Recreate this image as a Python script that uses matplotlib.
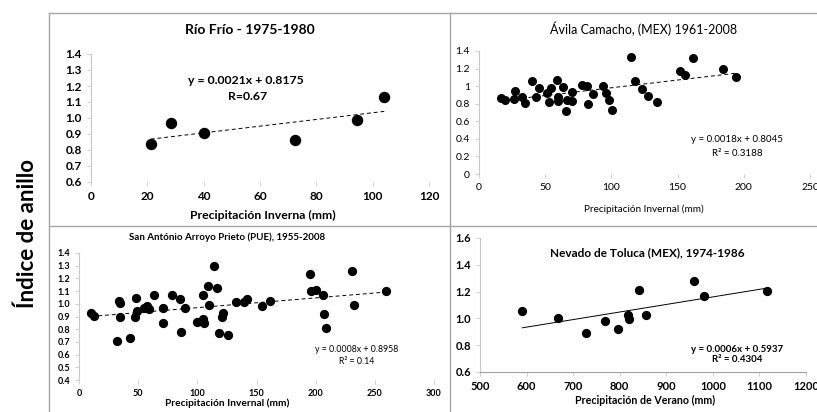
import numpy as np
import matplotlib
matplotlib.use("Agg")
import matplotlib.pyplot as plt
from matplotlib.lines import Line2D

plt.rcParams['font.family'] = ['Lato', 'DejaVu Sans']

W, H = 817, 412

# --- data ---
# Rio Frio 1975-1980
x_rio = [21.2, 28.5, 40.2, 72.4, 94.5, 104.1]
y_rio = [0.836, 0.97, 0.907, 0.861, 0.99, 1.132]

# Avila Camacho (MEX) 1961-2008
x_avila = [16.9, 19.4, 26.5, 27, 32.8, 34.6, 40.4, 42.7, 45.2, 51.7, 53, 54.3, 58.6,
           59.3, 59.8, 63.6, 65.4, 66.2, 70.5, 70.5, 77.5, 81.3, 82.6, 85.8, 93.9,
           95.7, 98.2, 100.2, 114.9, 118.2, 123.2, 127.8, 134.6, 151.8, 155.5, 161.6,
           184.6, 194]
y_avila = [0.868, 0.842, 0.85, 0.948, 0.88, 0.81, 1.058, 0.88, 0.975, 0.925, 0.823,
           0.975, 1.07, 0.88, 0.834, 0.993, 0.72, 0.842, 0.936, 0.834, 1.012, 1.0,
           0.80, 0.906, 1.0, 0.918, 0.842, 0.728, 1.327, 1.06, 0.967, 0.887, 0.823,
           1.175, 1.126, 1.316, 1.20, 1.10]

# San Antonio Arroyo Prieto (PUE) 1955-2008
x_sanant = [10.5, 12.5, 32.4, 33.5, 35, 34.7, 43.2, 48, 47.5, 49, 55, 57.5, 59, 63.7,
            71, 71, 78.8, 85.3, 85.9, 89.6, 99.5, 104.4, 105, 105.8, 108.6, 109.5,
            113.8, 116.6, 118, 120.9, 121.7, 125.7, 132.8, 139.5, 142.3, 155, 161.8,
            195, 196.4, 200, 206.3, 207, 208.5, 230.3, 232.2, 259.3]
y_sanant = [0.931, 0.905, 0.71, 1.025, 1.01, 0.895, 0.734, 1.045, 0.895, 0.947, 0.966,
            0.979, 0.958, 1.071, 0.966, 0.852, 1.071, 1.037, 0.776, 0.966, 0.86, 1.071,
            0.881, 0.852, 1.142, 0.992, 1.294, 1.124, 0.768, 0.895, 0.931, 0.755,
            1.018, 1.018, 1.037, 0.979, 1.023, 1.237, 1.103, 1.11, 1.071, 0.918,
            0.808, 1.255, 0.992, 1.097]

# Nevado de Toluca (MEX) 1974-1986
x_toluca = [591, 668, 728, 768, 796, 817, 819, 842, 856, 960, 981, 1117]
y_toluca = [1.053, 1.003, 0.894, 0.978, 0.923, 1.028, 0.998, 1.214, 1.028, 1.277, 1.165, 1.204]

titles = ['Río Frío - 1975-1980', 'Ávila Camacho, (MEX) 1961-2008',
          'San António Arroyo Prieto (PUE), 1955-2008', 'Nevado de Toluca (MEX), 1974-1986']
xlabels = ['Precipitación Inverna (mm)', 'Precipitación Invernal (mm)',
           'Precipitación Invernal (mm)', 'Precipitación de Verano (mm)']
eqs = [('y = 0.0021x + 0.8175', 'R=0.67'),
       ('y = 0.0018x + 0.8045', 'R² = 0.3188'),
       ('y = 0.0008x + 0.8958', 'R² = 0.14'),
       ('y = 0.0006x + 0.5937', 'R² = 0.4304')]


def fx(x):
    return x / W


def fy(y):
    return 1 - y / H


def box(l, t, r, b):
    return [fx(l), fy(b), (r - l) / W, (b - t) / H]


fig = plt.figure(figsize=(W / 100, H / 100), dpi=100)

grey = '#c8c8c8'


def setup(ax, xlim, ylim, xt, yt, yfmt, size, weight, xline=False):
    ax.set_xlim(*xlim)
    ax.set_ylim(*ylim)
    ax.set_xticks(xt)
    ax.set_yticks(yt)
    ax.set_yticklabels([yfmt(v) for v in yt])
    for s in ['top', 'right']:
        ax.spines[s].set_visible(False)
    ax.spines['left'].set_color(grey)
    ax.spines['left'].set_linewidth(0.8)
    if xline:
        ax.spines['bottom'].set_color('#a0a0a0')
        ax.spines['bottom'].set_linewidth(0.8)
    else:
        ax.spines['bottom'].set_visible(False)
    ax.tick_params(direction='out', length=3, width=0.6, color=grey,
                   labelsize=size, pad=3.5)
    for lb in ax.get_xticklabels() + ax.get_yticklabels():
        lb.set_fontweight(weight)
    ax.patch.set_alpha(0)


def trend(ax, x, y, **kw):
    k, b = np.polyfit(x, y, 1)
    xs = np.array([min(x), max(x)])
    ax.plot(xs, k * xs + b, color='black', lw=0.7, zorder=2, **kw)


# panel 1
ax1 = fig.add_axes(box(91, 54, 429, 182))
setup(ax1, (0, 120), (0.6, 1.4), np.arange(0, 121, 20), np.arange(0.6, 1.41, 0.1),
      lambda v: '%.1f' % v, 8.5, 'bold')
ax1.scatter(x_rio, y_rio, s=52, color='black', zorder=3, clip_on=False)
trend(ax1, x_rio, y_rio, ls=(0, (4, 3)))

# panel 2
ax2 = fig.add_axes(box(479, 51, 810, 174))
setup(ax2, (0, 250), (0, 1.4), np.arange(0, 251, 50), np.arange(0, 1.41, 0.2),
      lambda v: '%g' % round(v, 1), 7.5, 'normal')
ax2.scatter(x_avila, y_avila, s=30, color='black', zorder=3, clip_on=False)
trend(ax2, x_avila, y_avila, ls=(0, (4, 3)))

# panel 3
ax3 = fig.add_axes(box(79, 253, 434, 380))
setup(ax3, (0, 300), (0.4, 1.4), np.arange(0, 301, 50), np.arange(0.4, 1.41, 0.1),
      lambda v: '%.1f' % v, 6.5, 'bold')
ax3.scatter(x_sanant, y_sanant, s=32, color='black', zorder=3, clip_on=False)
trend(ax3, x_sanant, y_sanant, ls=(0, (4, 3)))

# panel 4
ax4 = fig.add_axes(box(480, 238, 806, 372))
setup(ax4, (500, 1200), (0.6, 1.6), np.arange(500, 1201, 100), np.arange(0.6, 1.61, 0.2),
      lambda v: '%.1f' % v, 8, 'bold', xline=True)
ax4.scatter(x_toluca, y_toluca, s=32, color='black', zorder=3, clip_on=False)
trend(ax4, x_toluca, y_toluca)

# titles, axis titles, equations (placed in pixel space)
fig.text(fx(250), fy(30), titles[0], ha='center', va='center', fontsize=10, fontweight='bold')
fig.text(fx(644), fy(29), titles[1], ha='center', va='center', fontsize=9)
fig.text(fx(227), fy(237), titles[2], ha='center', va='center', fontsize=7, fontweight='bold')
fig.text(fx(647), fy(253), titles[3], ha='center', va='center', fontsize=8.5, fontweight='bold')

fig.text(fx(263), fy(215), xlabels[0], ha='center', va='center', fontsize=8.8, fontweight='bold')
fig.text(fx(644), fy(209), xlabels[1], ha='center', va='center', fontsize=7.2)
fig.text(fx(227), fy(403), xlabels[2], ha='center', va='center', fontsize=7.3, fontweight='bold')
fig.text(fx(645), fy(400), xlabels[3], ha='center', va='center', fontsize=7.7, fontweight='bold')

fig.text(fx(246), fy(81), eqs[0][0], ha='center', va='center', fontsize=8.8, fontweight='bold')
fig.text(fx(248), fy(96), eqs[0][1], ha='center', va='center', fontsize=8.8, fontweight='bold')
fig.text(fx(737), fy(139), eqs[1][0], ha='center', va='center', fontsize=7)
fig.text(fx(737), fy(153), eqs[1][1], ha='center', va='center', fontsize=7)
fig.text(fx(357), fy(349), eqs[2][0], ha='center', va='center', fontsize=6.3)
fig.text(fx(357), fy(361), eqs[2][1], ha='center', va='center', fontsize=6.3)
fig.text(fx(737), fy(349), eqs[3][0], ha='center', va='center', fontsize=7, fontweight='bold')
fig.text(fx(737), fy(360), eqs[3][1], ha='center', va='center', fontsize=7, fontweight='bold')

fig.text(fx(27), fy(234), 'Índice de anillo', ha='center', va='center', rotation=90,
         fontsize=16, fontweight='bold')

# panel separator lines
lc = '#a6a6a6'
for xs, ys in [((49, 817), (13, 13)), ((49, 817), (226, 226)),
               ((49, 49), (13, 412)), ((450, 450), (13, 412))]:
    fig.add_artist(Line2D([fx(v) for v in xs], [fy(v) for v in ys], color=lc, lw=1))

fig.savefig('out.png', dpi=100)
